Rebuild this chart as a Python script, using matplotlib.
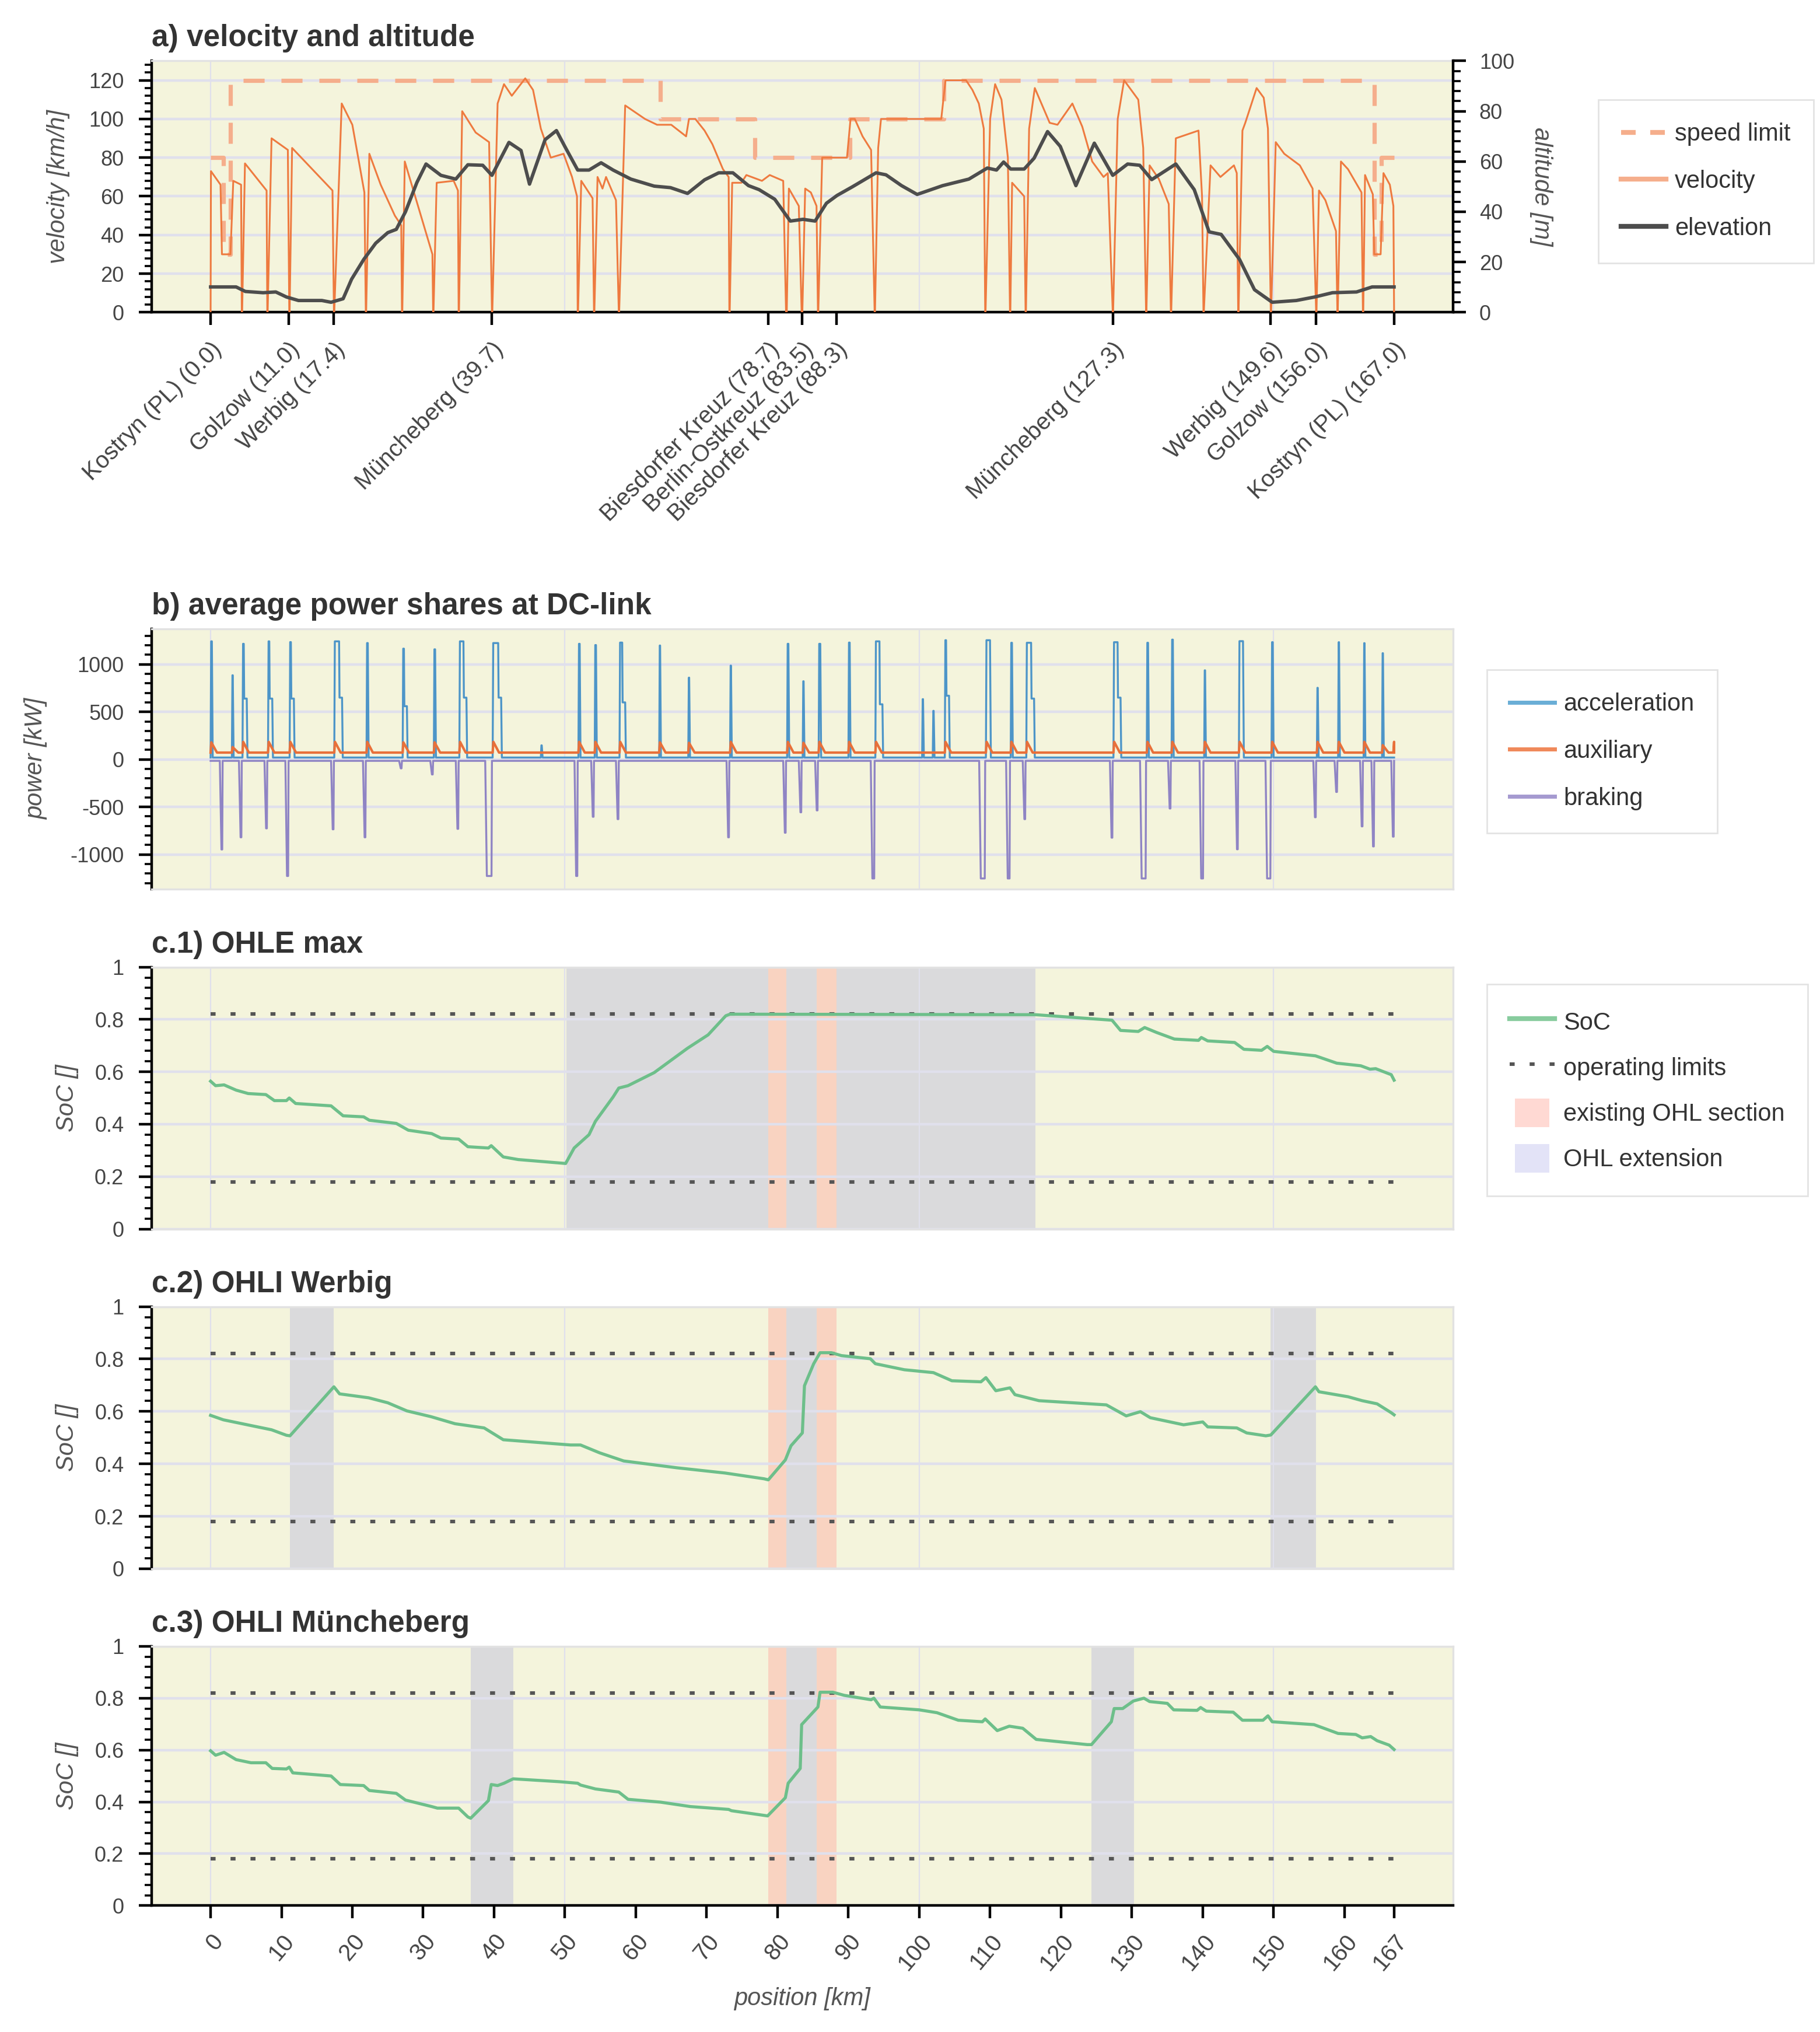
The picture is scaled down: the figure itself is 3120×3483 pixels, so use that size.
import numpy as np
import matplotlib
matplotlib.use("Agg")
import matplotlib.pyplot as plt
import matplotlib.patches as mpatches
from matplotlib.lines import Line2D
from matplotlib.legend_handler import HandlerPatch
from matplotlib.ticker import MultipleLocator, AutoMinorLocator, FuncFormatter

# ---------------- data ----------------
route_km = [0.0, 167.0]
grid_km = [0, 50, 100, 150]

# stations shown under panel a
stn_km = [0.0, 11.0, 17.4, 39.7, 78.7, 83.5, 88.3, 127.3, 149.6, 156.0, 167.0]
stn_name = ['Kostryn (PL)', 'Golzow', 'Werbig', 'Müncheberg', 'Biesdorfer Kreuz',
            'Berlin-Ostkreuz', 'Biesdorfer Kreuz', 'Müncheberg', 'Werbig', 'Golzow',
            'Kostryn (PL)']

# speed limit (step function)
sl_km = [0.0, 1.8, 2.8, 63.5, 76.8, 90.2, 103.5, 164.2, 165.2, 167.0]
sl_kmh = [80, 30, 120, 100, 80, 100, 120, 30, 80, 80]

# velocity profile, one run between two stops per line
vel_km = [0, 0.05, 1.4, 1.6, 2.8, 3.2, 4.3, 4.4,
          4.45, 4.85, 7.9, 8.0,
          8.05, 8.6, 10.9, 11.1,
          11.15, 11.5, 17.2, 17.4,
          17.45, 18.5, 20.0, 21.7, 21.9,
          21.95, 22.4, 24.0, 26.0, 26.9, 27.0,
          27.05, 27.4, 31.3, 31.4,
          31.45, 31.9, 34.3, 34.9, 35.0,
          35.05, 35.5, 37.4, 39.3, 39.7,
          39.75, 40.5, 41.4, 42.5, 44.4, 45.5, 46.6, 48.0, 49.8, 51.0, 51.7, 51.8,
          51.85, 52.3, 53.9, 54.1,
          54.15, 54.6, 55.3, 55.8, 57.2, 57.6,
          57.65, 58.5, 61.3, 63.0, 65.0, 67.1, 67.5, 68.4, 69.7, 70.8, 72.3, 73.1, 73.2,
          73.25, 73.6, 74.9, 75.6, 77.8, 78.9, 80.8, 81.2,
          81.3, 81.6, 83.0, 83.4,
          83.5, 83.9, 84.7, 85.5, 85.7,
          85.75, 86.3, 89.8, 90.3, 90.9, 92.0, 93.2, 93.7,
          93.75, 94.2, 94.6, 103.1, 103.7, 106.6, 107.5, 108.4, 109.1, 109.3,
          109.35, 110.0, 110.7, 111.6, 112.5, 112.8,
          112.85, 113.1, 114.8, 115.0,
          115.05, 115.5, 116.3, 118.4, 119.5, 121.6, 123.0, 124.4, 126.0, 126.6, 127.3,
          127.35, 128.0, 128.9, 129.5, 130.9, 131.6, 132.0,
          132.05, 132.5, 133.8, 135.2, 135.5,
          135.55, 136.2, 139.4, 139.9, 140.1,
          140.15, 141.1, 142.5, 144.4, 144.8, 145.0,
          145.05, 145.6, 146.0, 147.6, 148.6, 149.2, 149.6,
          149.65, 150.3, 151.5, 153.7, 155.5, 156.0,
          156.05, 156.4, 157.3, 158.8, 159.0,
          159.05, 159.5, 160.5, 162.4, 162.6,
          162.65, 162.9, 164.0, 164.2, 165.1, 165.5, 166.4, 166.9, 167.0]
vel_kmh = [0, 73, 66, 30, 30, 68, 66, 0,
           0, 77, 63, 0,
           0, 90, 84, 0,
           0, 85, 63, 0,
           0, 108, 97, 62, 0,
           0, 82, 66, 50, 45, 0,
           0, 78, 30, 0,
           0, 67, 68, 63, 0,
           0, 104, 93, 88, 0,
           0, 108, 118, 112, 121, 115, 95, 80, 82, 70, 60, 0,
           0, 68, 59, 0,
           0, 70, 64, 70, 58, 0,
           0, 107, 100, 97, 97, 91, 100, 100, 94, 87, 74, 70, 0,
           0, 67, 67, 71, 68, 71, 68, 0,
           0, 64, 55, 0,
           0, 64, 62, 55, 0,
           0, 80, 80, 100, 100, 91, 84, 0,
           0, 85, 100, 100, 120, 120, 115, 108, 95, 0,
           0, 100, 118, 110, 80, 0,
           0, 67, 60, 0,
           0, 95, 116, 98, 97, 108, 96, 78, 70, 72, 0,
           0, 100, 120, 117, 110, 85, 0,
           0, 76, 69, 56, 0,
           0, 90, 94, 60, 0,
           0, 76, 70, 76, 72, 0,
           0, 94, 98, 116, 111, 95, 0,
           0, 88, 82, 76, 64, 0,
           0, 63, 58, 42, 0,
           0, 78, 74, 62, 0,
           0, 71, 61, 30, 30, 72, 66, 55, 0]

# elevation
elev_km = [0, 3.6, 4.9, 7.4, 9.2, 10.7, 12.4, 15.7, 17.0, 18.7,
           19.9, 21.6, 23.3, 25.0, 26.2, 27.5, 29.1, 30.4, 32.5, 34.6,
           36.3, 38.4, 39.7, 42.1, 43.8, 45.0, 47.2, 48.8, 50.0, 51.8,
           53.4, 55.1, 56.8, 59.3, 62.6, 64.9, 67.3, 69.7, 71.7, 73.7,
           75.9, 77.4, 79.6, 81.8, 83.6, 85.3, 86.9, 88.4, 90.6, 93.9,
           95.3, 97.5, 99.7, 103.3, 107.0, 109.6, 110.9, 111.9, 112.9, 114.8,
           116.2, 118.1, 119.9, 122.1, 124.7, 127.3, 129.4, 131.1, 132.8, 136.2,
           138.8, 140.9, 142.6, 145.2, 147.3, 149.8, 153.2, 155.8, 158.3, 161.7,
           163.9, 167.0]
elev_m = [10.1, 10.1, 8.3, 7.8, 8.1, 6.1, 4.7, 4.7, 4.0, 5.4,
          13.2, 21.0, 27.5, 31.7, 33.0, 40.0, 51.6, 59.0, 54.5, 53.0,
          58.7, 58.5, 54.5, 67.6, 64.4, 51.0, 68.7, 72.3, 65.9, 56.6,
          56.6, 59.5, 56.6, 53.0, 50.2, 49.6, 47.3, 52.7, 55.5, 55.5,
          50.4, 48.8, 45.0, 36.3, 37.0, 36.3, 43.4, 46.5, 50.0, 55.5,
          54.7, 50.4, 46.9, 50.4, 53.0, 57.4, 56.6, 59.8, 57.0, 57.0,
          61.3, 71.9, 66.0, 50.4, 67.3, 54.5, 59.0, 58.5, 52.8, 59.0,
          48.8, 32.0, 31.0, 21.0, 9.0, 4.0, 4.7, 6.1, 7.8, 8.1,
          10.1, 10.1]

# power events at the DC-link
acc_km = [0.0, 3.0, 4.5, 8.1, 11.15, 17.45, 22.0, 27.1, 31.5, 35.1,
          39.8, 46.6, 51.9, 54.2, 57.7, 63.3, 67.4, 73.3, 81.35, 83.55,
          85.8, 90.0, 93.8, 100.4, 101.9, 103.6, 109.4, 112.9, 115.1, 127.4,
          132.1, 135.6, 140.2, 145.1, 149.7, 156.1, 159.1, 162.7, 165.3]
acc_kw = [1242, 885, 1216, 1242, 1234, 1242, 1224, 1165, 1158, 1242,
          1224, 148, 1216, 1203, 1229, 1198, 860, 987, 1216, 822,
          1216, 1229, 1242, 634, 511, 1254, 1254, 1227, 1227, 1233,
          1227, 1260, 937, 1244, 1233, 753, 1233, 1223, 1117]
acc_hold = [0.1, 0.05, 0.1, 0.1, 0.1, 0.6, 0.1, 0.1, 0.1, 0.5,
            0.7, 0.05, 0.1, 0.1, 0.3, 0.05, 0.05, 0.05, 0.1, 0.05,
            0.15, 0.1, 0.5, 0.05, 0.05, 0.1, 0.5, 0.1, 0.6, 0.5,
            0.1, 0.1, 0.05, 0.5, 0.1, 0.05, 0.05, 0.05, 0.05]
acc_mid = [0, 0, 640, 640, 640, 650, 0, 560, 0, 650,
           650, 0, 0, 0, 600, 0, 0, 0, 0, 0,
           0, 0, 580, 0, 0, 670, 0, 0, 640, 650,
           0, 0, 0, 0, 0, 0, 0, 0, 0]
acc_base = 20

aux_km = [0.0, 3.0, 4.5, 8.1, 11.15, 17.45, 22.0, 27.1, 31.5, 35.1,
          39.8, 51.9, 54.2, 57.7, 63.3, 67.4, 73.3, 81.35, 83.55, 85.8,
          90.0, 93.8, 103.6, 109.4, 112.9, 115.1, 127.4, 132.1, 135.6, 140.2,
          145.1, 149.7, 156.1, 159.1, 162.7, 165.3, 166.9]
aux_kw = [180, 130, 185, 185, 185, 185, 185, 180, 180, 185,
          185, 185, 185, 185, 180, 175, 185, 185, 175, 185,
          185, 185, 185, 185, 185, 185, 185, 185, 185, 185,
          185, 185, 185, 185, 185, 150, 185]
aux_base = 72

brk_km = [1.7, 4.4, 8.0, 11.0, 17.4, 21.9, 27.0, 31.4, 35.0, 39.7,
          51.8, 54.1, 57.6, 73.2, 81.2, 83.4, 85.7, 93.7, 109.3, 112.8,
          115.0, 127.3, 132.0, 135.5, 140.1, 145.0, 149.6, 156.0, 159.0, 162.6,
          164.2, 167.0]
brk_kw = [-947, -819, -725, -1226, -735, -819, -94, -158, -730, -1226,
          -1226, -603, -628, -819, -771, -556, -536, -1252, -1252, -1252,
          -628, -823, -1252, -516, -1252, -945, -1252, -608, -342, -704,
          -915, -812]
brk_hold = [0.05, 0.05, 0.05, 0.1, 0.05, 0.05, 0.05, 0.05, 0.05, 0.6,
            0.1, 0.05, 0.05, 0.05, 0.05, 0.05, 0.05, 0.2, 0.5, 0.2,
            0.05, 0.05, 0.5, 0.05, 0.2, 0.05, 0.4, 0.05, 0.05, 0.05,
            0.05, 0.05]
brk_base = -15

# state of charge for the three scenarios
soc_limits = [0.18, 0.82]

soc1_km = [0, 0.7, 1.9, 3.6, 5.3, 7.8, 9.0, 10.7, 11.1, 12.0,
           17.0, 18.7, 21.6, 22.4, 26.2, 27.9, 31.2, 32.5, 35.0, 36.3,
           39.2, 39.6, 41.3, 43.4, 50.1, 51.3, 53.4, 54.3, 56.8, 57.6,
           58.9, 62.6, 67.3, 70.2, 72.7, 73.3, 116.4, 127.2, 128.4, 130.9,
           131.8, 133.5, 136.0, 139.4, 139.8, 140.7, 144.5, 145.8, 148.3, 149.1,
           150.0, 155.9, 158.9, 162.3, 163.6, 164.4, 166.6, 167.0]
soc1 = [0.564, 0.547, 0.55, 0.53, 0.517, 0.513, 0.49, 0.49, 0.5, 0.479,
        0.47, 0.432, 0.428, 0.415, 0.403, 0.377, 0.364, 0.347, 0.343, 0.314,
        0.309, 0.318, 0.275, 0.265, 0.25, 0.309, 0.36, 0.411, 0.504, 0.538,
        0.547, 0.597, 0.69, 0.741, 0.814, 0.82, 0.818, 0.797, 0.758, 0.754,
        0.769, 0.75, 0.725, 0.72, 0.731, 0.718, 0.712, 0.686, 0.682, 0.697,
        0.678, 0.661, 0.633, 0.623, 0.61, 0.612, 0.589, 0.568]

soc2_km = [0, 1.8, 5.9, 8.6, 10.7, 11.2, 17.4, 18.2, 22.3, 25.0,
           27.7, 31.1, 34.5, 38.6, 41.3, 50.8, 52.2, 54.9, 58.3, 65.8,
           72.6, 78.1, 78.7, 81.1, 81.9, 83.5, 83.8, 85.1, 86.0, 87.6,
           89.0, 93.1, 93.8, 97.9, 102.0, 104.6, 108.7, 109.4, 110.8, 112.8,
           113.5, 116.9, 126.4, 129.2, 131.2, 132.6, 137.3, 140.0, 140.7, 144.8,
           146.2, 148.9, 149.6, 155.9, 156.4, 160.5, 162.5, 164.6, 166.6, 167.0]
soc2 = [0.585, 0.568, 0.545, 0.53, 0.509, 0.507, 0.694, 0.667, 0.652, 0.633,
        0.602, 0.58, 0.553, 0.537, 0.492, 0.472, 0.472, 0.442, 0.411, 0.385,
        0.365, 0.343, 0.339, 0.415, 0.469, 0.518, 0.698, 0.782, 0.824, 0.824,
        0.813, 0.801, 0.782, 0.759, 0.748, 0.717, 0.713, 0.729, 0.679, 0.69,
        0.664, 0.641, 0.625, 0.583, 0.599, 0.576, 0.549, 0.56, 0.541, 0.537,
        0.518, 0.507, 0.51, 0.694, 0.675, 0.656, 0.641, 0.629, 0.595, 0.587]

soc3_km = [0, 0.7, 1.9, 3.6, 5.7, 7.8, 8.7, 10.7, 11.1, 11.6,
           17.0, 18.3, 21.6, 22.4, 26.2, 27.5, 31.2, 32.0, 35.0, 36.3,
           36.7, 39.2, 39.6, 40.5, 41.4, 42.7, 49.2, 51.8, 52.2, 54.3,
           57.6, 58.9, 63.5, 67.7, 73.1, 73.5, 78.6, 81.1, 81.5, 83.2,
           83.4, 85.7, 86.0, 87.8, 89.4, 93.2, 93.6, 94.5, 100.0, 102.5,
           105.5, 108.9, 109.3, 111.0, 112.7, 114.6, 116.5, 123.7, 124.3, 127.1,
           127.5, 128.7, 130.2, 131.7, 132.5, 135.0, 135.9, 139.2, 139.7, 140.5,
           144.3, 145.6, 148.5, 149.2, 149.8, 155.7, 159.1, 161.6, 162.5, 163.7,
           164.6, 166.3, 167.0]
soc3 = [0.597, 0.58, 0.591, 0.563, 0.551, 0.551, 0.529, 0.527, 0.534, 0.512,
        0.5, 0.467, 0.463, 0.444, 0.433, 0.407, 0.382, 0.376, 0.376, 0.342,
        0.337, 0.405, 0.467, 0.463, 0.472, 0.489, 0.478, 0.472, 0.465, 0.45,
        0.438, 0.41, 0.399, 0.382, 0.371, 0.366, 0.346, 0.416, 0.472, 0.529,
        0.698, 0.766, 0.823, 0.823, 0.811, 0.794, 0.8, 0.766, 0.755, 0.744,
        0.715, 0.709, 0.72, 0.675, 0.692, 0.684, 0.641, 0.621, 0.621, 0.709,
        0.76, 0.76, 0.789, 0.8, 0.787, 0.78, 0.755, 0.753, 0.764, 0.75,
        0.746, 0.715, 0.715, 0.732, 0.709, 0.698, 0.664, 0.66, 0.647, 0.652,
        0.636, 0.619, 0.602]

# overhead line sections (km from - km to)
ohl_existing = [(78.7, 81.2), (85.5, 88.3)]
ohl_ext_c1 = [(50.2, 78.7), (81.2, 85.5), (88.3, 116.4)]
ohl_ext_c2 = [(11.2, 17.4), (81.2, 85.5), (149.6, 156.0)]
ohl_ext_c3 = [(36.7, 42.7), (81.2, 85.5), (124.3, 130.3)]

pos_ticks = [0, 10, 20, 30, 40, 50, 60, 70, 80, 90, 100, 110, 120, 130, 140, 150, 160, 167]


# ---------------- helpers ----------------
def accel_trace():
    pts = [(route_km[0], acc_base), (route_km[1], acc_base)]
    for p, h, w, m in zip(acc_km, acc_kw, acc_hold, acc_mid):
        pts += [(p, acc_base), (p + 0.08, h), (p + 0.08 + w, h)]
        if m:
            pts += [(p + 0.14 + w, m), (p + 0.5 + w, m), (p + 0.6 + w, acc_base)]
        else:
            pts += [(p + 0.2 + w, acc_base)]
    pts.sort()
    x, y = np.array(pts).T
    return np.clip(x, *route_km), y


def brake_trace():
    pts = [(route_km[0], brk_base), (route_km[1], brk_base)]
    for p, h, w in zip(brk_km, brk_kw, brk_hold):
        pts += [(p - w - 0.35, brk_base), (p - w - 0.12, h), (p - 0.06, h), (p, brk_base)]
    pts.sort()
    x, y = np.array(pts).T
    return np.clip(x, *route_km), y


def aux_trace():
    pts = [(route_km[0], aux_base)]
    for p, h in zip(aux_km, aux_kw):
        pts += [(p, aux_base), (p + 0.1, h), (p + 0.9, aux_base)]
    pts.sort()
    x, y = np.array(pts).T
    return np.clip(x, *route_km), y


# ---------------- style ----------------
plt.rcParams['font.family'] = ['Liberation Sans', 'DejaVu Sans']
plt.rcParams['axes.unicode_minus'] = False

BG = '#f4f4dc'
GRID = '#e0e0ec'
FRAME = '#e2e2e2'
TXT = '#444444'
LBL = '#555555'
C_EXIST = '#ffb4a8'
C_EXT = '#c5c5dc'
TICK_FS = 13
LBL_FS = 15

fig = plt.figure(figsize=(15.6, 17.415), dpi=200)
L, W = 0.0832, 0.7153


def base_axes(rect, title, black_bottom=False):
    ax = fig.add_axes(rect)
    ax.set_facecolor(BG)
    ax.set_xlim(-8.35, 175.35)
    ax.set_axisbelow(True)
    for s in ['top', 'right', 'bottom']:
        ax.spines[s].set_color(FRAME)
        ax.spines[s].set_linewidth(1.2)
    ax.spines['left'].set_color('black')
    ax.spines['left'].set_linewidth(1.6)
    if black_bottom:
        ax.spines['bottom'].set_color('black')
        ax.spines['bottom'].set_linewidth(1.6)
    ax.grid(axis='y', color=GRID, lw=1.6)
    for g in grid_km:
        ax.axvline(g, color=GRID, lw=0.8, zorder=0.5)
    ax.tick_params(axis='y', which='major', direction='out', length=8, width=1.6,
                   labelsize=TICK_FS, labelcolor=TXT, pad=9)
    ax.tick_params(axis='y', which='minor', direction='out', length=4.5, width=1.3)
    ax.yaxis.set_minor_locator(AutoMinorLocator(5))
    ax.tick_params(axis='x', which='both', bottom=False, labelbottom=False)
    ax.set_title(title, loc='left', fontsize=18.5, fontweight='bold', color='#333333', pad=9)
    return ax


leg_kw = dict(loc='upper left', fontsize=15, frameon=True, fancybox=False,
              edgecolor='#e3e3e3', framealpha=1, borderpad=0.95, handletextpad=0.35,
              handlelength=1.85, labelcolor='#333333')

# ---------------- a) velocity and altitude ----------------
ax = base_axes((L, 0.8463, W, 0.1237), 'a) velocity and altitude', black_bottom=True)
ax.set_ylim(0, 130)
ax.yaxis.set_major_locator(MultipleLocator(20))
ax.plot(sl_km, sl_kmh, drawstyle='steps-post', color='#f5ae8c', lw=2.6,
        linestyle=(0, (5, 4)), zorder=2)
ax.plot(vel_km, vel_kmh, color='#ee7a3f', lw=1.1, zorder=3)
ax.set_xticks(stn_km)
ax.set_xticklabels([f'{n} ({k:.1f})' for n, k in zip(stn_name, stn_km)],
                   rotation=45, ha='right', va='top', rotation_mode='anchor')
ax.tick_params(axis='x', which='major', bottom=True, labelbottom=True, direction='out',
               length=8, width=1.6, labelsize=14.5, labelcolor=TXT, pad=8)
ax.set_ylabel('velocity [km/h]', fontsize=LBL_FS, style='italic', color=LBL, va='center')
ax.yaxis.set_label_coords(-0.0716, 0.5)

ax2 = ax.twinx()
ax2.set_ylim(0, 100)
ax2.plot(elev_km, elev_m, color='#4d4d4d', lw=2.1)
for s in ['top', 'left', 'bottom']:
    ax2.spines[s].set_visible(False)
ax2.spines['right'].set_color('black')
ax2.spines['right'].set_linewidth(1.6)
ax2.yaxis.set_major_locator(MultipleLocator(20))
ax2.yaxis.set_minor_locator(AutoMinorLocator(5))
ax2.tick_params(axis='y', which='major', direction='out', length=8, width=1.6,
                labelsize=TICK_FS, labelcolor=TXT, pad=8)
ax2.tick_params(axis='y', which='minor', direction='out', length=4.5, width=1.3)
ax2.set_ylabel('altitude [m]', fontsize=LBL_FS, style='italic', color=LBL,
               rotation=270, va='center')
ax2.yaxis.set_label_coords(1.0677, 0.5)

fig.legend(handles=[Line2D([], [], color='#f5ae8c', lw=3, linestyle=(0, (3, 3))),
                    Line2D([], [], color='#f5ae8c', lw=3),
                    Line2D([], [], color='#4d4d4d', lw=3)],
           labels=['speed limit', 'velocity', 'elevation'],
           bbox_to_anchor=(0.8714, 0.957), labelspacing=0.98, **leg_kw)

# ---------------- b) power shares ----------------
axb = base_axes((L, 0.5624, W, 0.1282), 'b) average power shares at DC-link')
axb.set_ylim(-1365, 1375)
axb.yaxis.set_major_locator(MultipleLocator(500))
ax_x, ax_y = accel_trace()
br_x, br_y = brake_trace()
au_x, au_y = aux_trace()
axb.plot(ax_x, ax_y, color='#3b8bc6', lw=1.2, alpha=0.9)
axb.plot(br_x, br_y, color='#8f84c4', lw=1.2)
axb.plot(au_x, au_y, color='#e8703a', lw=1.5)
axb.set_ylabel('power [kW]', fontsize=LBL_FS, style='italic', color=LBL, va='center')
axb.yaxis.set_label_coords(-0.0886, 0.5)
fig.legend(handles=[Line2D([], [], color='#6aaed6', lw=2.5),
                    Line2D([], [], color='#f0895a', lw=2.5),
                    Line2D([], [], color='#a59ad0', lw=2.5)],
           labels=['acceleration', 'auxiliary', 'braking'],
           bbox_to_anchor=(0.8102, 0.6765), labelspacing=0.98, **leg_kw)

# ---------------- c) state of charge ----------------
soc_fmt = FuncFormatter(lambda v, _: f'{v:g}')
c_panels = [((L, 0.3952, W, 0.1289), 'c.1) OHLE max', soc1_km, soc1, ohl_ext_c1),
            ((L, 0.2280, W, 0.1290), 'c.2) OHLI Werbig', soc2_km, soc2, ohl_ext_c2),
            ((L, 0.0622, W, 0.1276), 'c.3) OHLI Müncheberg', soc3_km, soc3, ohl_ext_c3)]
for i, (rect, title, xk, yv, ext) in enumerate(c_panels):
    last = i == len(c_panels) - 1
    axc = base_axes(rect, title, black_bottom=last)
    axc.set_ylim(0, 1)
    axc.yaxis.set_major_locator(MultipleLocator(0.2))
    axc.yaxis.set_major_formatter(soc_fmt)
    for a, b in ohl_existing:
        axc.axvspan(a, b, color=C_EXIST, alpha=0.5, lw=0, zorder=0.2)
    for a, b in ext:
        axc.axvspan(a, b, color=C_EXT, alpha=0.55, lw=0, zorder=0.2)
    axc.hlines(soc_limits, route_km[0], route_km[1], colors='#555555', lw=2.2,
               linestyles=[(0, (1.4, 4.2))], zorder=2)
    axc.plot(xk, yv, color='#6dbf8a', lw=1.9, zorder=3)
    axc.set_ylabel('SoC []', fontsize=LBL_FS, style='italic', color=LBL, va='center')
    axc.yaxis.set_label_coords(-0.0647, 0.5)
    if last:
        axc.set_xticks(pos_ticks)
        axc.set_xticklabels([str(t) for t in pos_ticks], rotation=50, ha='right',
                            va='top', rotation_mode='anchor')
        axc.tick_params(axis='x', which='major', bottom=True, labelbottom=True,
                        direction='out', length=8, width=1.6, labelsize=14.5,
                        labelcolor=TXT, pad=7)
        axc.set_xlabel('position [km]', fontsize=LBL_FS, style='italic', color=LBL,
                       va='center')
        axc.xaxis.set_label_coords(0.5, -0.36)
    if i == 0:
        def narrow_patch(legend, orig_handle, xdescent, ydescent, width, height, fontsize):
            return mpatches.Rectangle((-xdescent + 0.12 * width, -ydescent), 0.76 * width, height)
        fig.legend(handles=[Line2D([], [], color='#88cc9e', lw=3),
                            Line2D([], [], color='#555555', lw=2.2, linestyle=(0, (1.4, 4.2))),
                            mpatches.Patch(color=C_EXIST, alpha=0.5, lw=0),
                            mpatches.Patch(color='#c8c8f0', alpha=0.5, lw=0)],
                   labels=['SoC', 'operating limits', 'existing OHL section', 'OHL extension'],
                   bbox_to_anchor=(0.8102, 0.5215), labelspacing=0.69, handleheight=1.44,
                   handler_map={mpatches.Patch: HandlerPatch(patch_func=narrow_patch)},
                   **leg_kw)

fig.savefig('out.png', dpi=200)
